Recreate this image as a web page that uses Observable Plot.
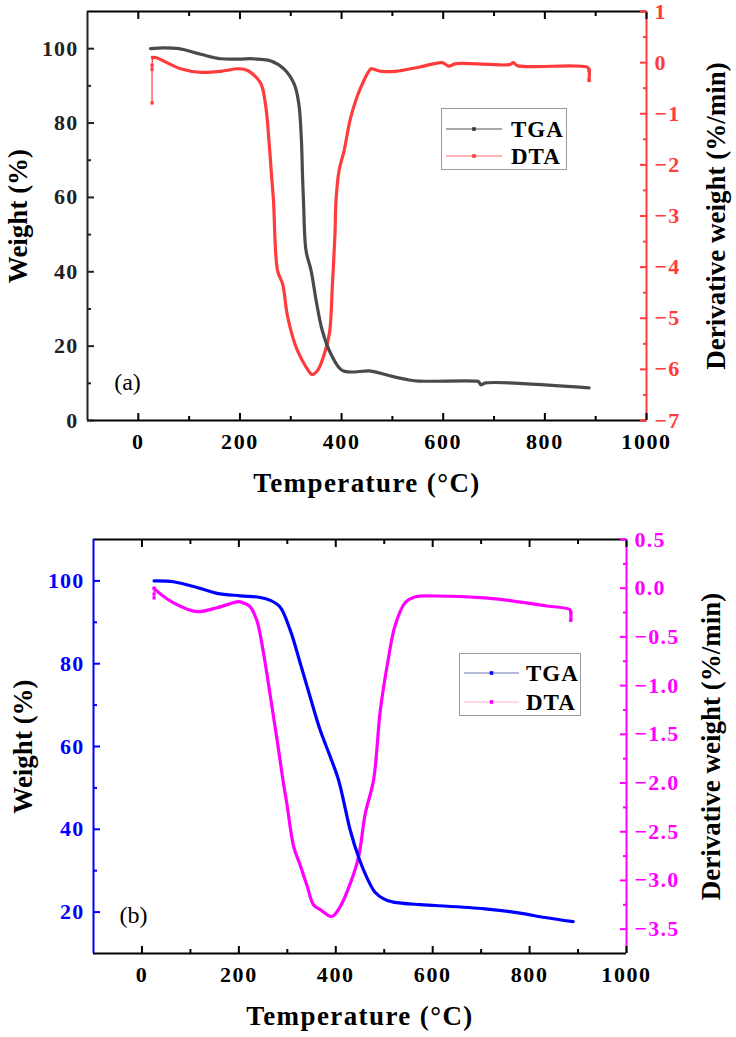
<!DOCTYPE html>
<html><head><meta charset="utf-8">
<script src="https://cdn.jsdelivr.net/npm/d3@7"></script>
<script src="https://cdn.jsdelivr.net/npm/@observablehq/plot@0.6"></script>
<style>
body{margin:0;background:#fff;}
#wrap{position:relative;width:736px;height:1037px;overflow:hidden;font-family:"Liberation Serif","Times New Roman",serif;}
#wrap > svg{position:absolute;left:0;}
#wrap svg text{font-family:"Liberation Serif","Times New Roman",serif;}
#wrap g[aria-label="x-axis tick label"] text{letter-spacing:1.6px;}
#wrap g[aria-label="y-axis tick label"] text{letter-spacing:1.2px;}
.legend{position:absolute;border:1px solid #9a9a9a;background:#fff;box-sizing:border-box;}
.legend svg{position:absolute;left:0;top:0;overflow:visible;}
</style></head><body><div id="wrap"></div>
<script>
// ---------- Panel (a) data ----------
const tempA_TGA = [24, 50, 80, 123, 162, 200, 221, 241, 261, 287, 307, 316, 321, 323, 325, 330, 340, 350, 362, 379, 402, 458, 493, 533, 552, 664, 670, 674, 684, 887];
const weightA   = [100, 100.2, 100, 98.5, 97.3, 97.2, 97.3, 97.1, 96.7, 94.5, 90.4, 85, 75.2, 66.3, 59.1, 45.7, 40.3, 32.2, 24.2, 17.9, 13.4, 13.3, 12.1, 10.9, 10.6, 10.6, 10.4, 9.6, 10.1, 8.8];
const tempA_DTA = [27, 27, 27, 28, 34, 83, 123, 162, 195, 208, 221, 241, 251, 257, 262, 266, 274, 284, 294, 313, 340, 343, 353, 366, 376, 382, 387, 389, 395, 405, 418, 438, 458, 463, 479, 506, 552, 598, 611, 625, 730, 738, 746, 884, 887, 887];
const derivA    = [-0.79, -0.13, -0.05, 0.1, 0.1, -0.12, -0.19, -0.17, -0.12, -0.13, -0.19, -0.41, -0.87, -1.52, -2.18, -2.7, -4.07, -4.33, -4.98, -5.63, -6.09, -6.1, -6.02, -5.7, -5.3, -4.33, -3.35, -2.7, -2.11, -1.72, -1.07, -0.48, -0.12, -0.13, -0.17, -0.17, -0.09, 0.0, -0.07, -0.02, -0.04, 0.0, -0.06, -0.09, -0.15, -0.35];

// ---------- Panel (b) data ----------
const tempB_TGA = [25, 65, 120, 155, 203, 244, 265, 285, 306, 327, 347, 368, 389, 406, 430, 447, 464, 481, 499, 519, 574, 605, 708, 777, 832, 890];
const weightB   = [100, 99.8, 98.2, 97, 96.4, 96, 95.3, 93.7, 88.1, 80, 72, 63.9, 57.4, 51.8, 39.7, 33.3, 28.4, 24.8, 23.2, 22.4, 21.8, 21.6, 20.8, 19.8, 18.7, 17.7];
const tempB_DTA = [25, 25, 25, 31, 65, 114, 155, 196, 203, 223, 237, 251, 265, 279, 291, 299, 313, 327, 341, 354, 368, 392, 409, 430, 447, 461, 478, 492, 508, 522, 543, 563, 605, 708, 777, 832, 883, 885, 885];
const derivB    = [-0.1, -0.06, 0.0, -0.03, -0.15, -0.24, -0.2, -0.14, -0.14, -0.19, -0.33, -0.67, -1.11, -1.56, -1.97, -2.21, -2.65, -2.85, -3.06, -3.25, -3.30, -3.37, -3.27, -3.03, -2.76, -2.31, -1.97, -1.25, -0.74, -0.39, -0.15, -0.09, -0.08, -0.10, -0.14, -0.18, -0.22, -0.25, -0.33];

// ---------- Tick labels ----------
const xMajor = [0, 200, 400, 600, 800, 1000];
const xMinor = [100, 300, 500, 700, 900];
const yMajorA = [0, 20, 40, 60, 80, 100];
const yMinorA = [10, 30, 50, 70, 90];
const dMajorA = [1, 0, -1, -2, -3, -4, -5, -6, -7];
const dMinorA = [0.5, -0.5, -1.5, -2.5, -3.5, -4.5, -5.5, -6.5];
const yMajorB = [20, 40, 60, 80, 100];
const yMinorB = [30, 50, 70, 90];
const dMajorB = [0.5, 0, -0.5, -1, -1.5, -2, -2.5, -3, -3.5];
const dMinorB = [0.25, -0.25, -0.75, -1.25, -1.75, -2.25, -2.75, -3.25];
const seriesNames = ["TGA", "DTA"];

const FONT = "Liberation Serif";
const TICKFS = 22;

function panel(cfg) {
  const {T1, W1, T2, D2, yDomain, dDomain, c1, c2, leftColor, rightColor,
         yMaj, yMin, dMaj, dMin, dFmt, height, mt, mb, ml, mr, tag, tagDx, tagDy, yTitleDx, dTitleDx, thinStart, thinEnd} = cfg;
  const [y0, y1] = yDomain, [d0, d1] = dDomain;
  const toW = d => y0 + (d - d0) / (d1 - d0) * (y1 - y0);
  const fromW = w => d0 + (w - y0) / (y1 - y0) * (d1 - d0);
  const n2 = T2.length;
  const i1 = d3.range(T1.length);
  const iMain = d3.range(thinStart, n2 - thinEnd + 1);
  const iHead = d3.range(0, thinStart + 1);
  const iTail = d3.range(n2 - thinEnd - 1, n2);
  const common = {fontSize: TICKFS, fontWeight: "bold", fontFamily: FONT, strokeWidth: 2, label: null};
  const title = {fontSize: 27, fontWeight: "bold", fontFamily: FONT, fill: "#000", textAnchor: "middle", lineAnchor: "middle"};
  const px = i => T2[i], py = i => toW(D2[i]);
  return Plot.plot({
    width: 736, height,
    marginTop: mt, marginBottom: mb, marginLeft: ml, marginRight: mr,
    style: "font-family: 'Liberation Serif', serif; background: transparent; overflow: visible;",
    x: {domain: [-100, 1000]},
    y: {domain: yDomain},
    marks: [
      // frame
      Plot.ruleY([y0], {stroke: "#000", strokeWidth: 2}),
      Plot.ruleY([y1], {stroke: "#000", strokeWidth: 2}),
      Plot.ruleX([-100], {stroke: leftColor, strokeWidth: 2}),
      Plot.ruleX([1000], {stroke: rightColor, strokeWidth: 2}),
      // bottom axis
      Plot.axisX({...common, anchor: "bottom", ticks: xMajor, tickSize: -7, tickPadding: 20, tickFormat: d3.format("d"), color: "#000"}),
      Plot.axisX({...common, anchor: "bottom", ticks: xMinor, tickSize: -4, tickFormat: () => "", color: "#000"}),
      // top ticks
      Plot.axisX({...common, anchor: "top", ticks: xMajor, tickSize: -7, tickFormat: () => "", color: "#000"}),
      Plot.axisX({...common, anchor: "top", ticks: xMinor, tickSize: -4, tickFormat: () => "", color: "#000"}),
      // left axis
      Plot.axisY({...common, anchor: "left", ticks: yMaj, tickSize: -7, tickPadding: 16, tickFormat: d3.format("d"), color: leftColor}),
      Plot.axisY({...common, anchor: "left", ticks: yMin, tickSize: -4, tickFormat: () => "", color: leftColor}),
      // right axis (derivative)
      Plot.axisY({...common, anchor: "right", ticks: dMaj.map(toW), tickSize: -7, tickPadding: 15, tickFormat: w => dFmt(+(Math.round(fromW(w) * 100) / 100).toFixed(2)), color: rightColor}),
      Plot.axisY({...common, anchor: "right", ticks: dMin.map(toW), tickSize: -4, tickFormat: () => "", color: rightColor}),
      // curves
      Plot.line(iHead, {x: px, y: py, stroke: c2, strokeWidth: 1.2}),
      Plot.line(iTail, {x: px, y: py, stroke: c2, strokeWidth: 1.2}),
      Plot.dot([...iHead, ...iTail], {x: px, y: py, fill: c2, r: 1.8, symbol: "square"}),
      Plot.line(iMain, {x: px, y: py, stroke: c2, strokeWidth: 3.2, curve: "catmull-rom"}),
      Plot.line(i1, {x: i => T1[i], y: i => W1[i], stroke: c1, strokeWidth: 3.2, curve: "catmull-rom"}),
      // titles
      Plot.text(["Temperature (°C)"], {...title, frameAnchor: "bottom", dy: 63}),
      Plot.text(["Weight (%)"], {...title, frameAnchor: "left", dx: yTitleDx, rotate: -90}),
      Plot.text(["Derivative weight (%/min)"], {...title, frameAnchor: "right", dx: dTitleDx, rotate: -90}),
      Plot.text([tag], {frameAnchor: "bottom-left", dx: tagDx, dy: tagDy, fontSize: 24, fontWeight: "normal", fontFamily: FONT, fill: "#000", textAnchor: "middle", lineAnchor: "middle"})
    ]
  });
}

const red = "#ff3b3b", gray = "#4a4a4a", blue = "#0000ff", magenta = "#ff00ff";
const wrap = document.getElementById("wrap");

const svgA = panel({
  T1: tempA_TGA, W1: weightA, T2: tempA_DTA, D2: derivA,
  yDomain: [0, 110], dDomain: [-7, 1], c1: gray, c2: red, leftColor: "#222", rightColor: red,
  yMaj: yMajorA, yMin: yMinorA, dMaj: dMajorA, dMin: dMinorA, dFmt: d3.format("d"),
  height: 505, mt: 11, mb: 85, ml: 87, mr: 90, tag: "(a)", tagDx: 40, tagDy: -38, yTitleDx: -69, dTitleDx: 70,
  thinStart: 3, thinEnd: 1
});
svgA.style.top = "0px";
wrap.appendChild(svgA);

const svgB = panel({
  T1: tempB_TGA, W1: weightB, T2: tempB_DTA, D2: derivB,
  yDomain: [10, 110], dDomain: [-3.75, 0.5], c1: blue, c2: magenta, leftColor: blue, rightColor: magenta,
  yMaj: yMajorB, yMin: yMinorB, dMaj: dMajorB, dMin: dMinorB, dFmt: d3.format(".1f"),
  height: 532, mt: 34, mb: 84, ml: 93, mr: 110, tag: "(b)", tagDx: 40, tagDy: -38, yTitleDx: -70, dTitleDx: 85,
  thinStart: 2, thinEnd: 1
});
svgB.style.top = "505px";
wrap.appendChild(svgB);

// widen horizontal titles slightly to match the reference's proportions
wrap.querySelectorAll("svg text").forEach(t => {
  if (t.textContent === "Temperature (°C)") t.style.letterSpacing = "1.4px";
});

// ---------- legends ----------
function legend({left, top, w, h, rows, colors, dotColors, lineX1, lineX2, textX}) {
  const div = document.createElement("div");
  div.className = "legend";
  Object.assign(div.style, {left: left + "px", top: top + "px", width: w + "px", height: h + "px"});
  const ns = "http://www.w3.org/2000/svg";
  const svg = document.createElementNS(ns, "svg");
  svg.setAttribute("width", w); svg.setAttribute("height", h);
  seriesNames.forEach((name, i) => {
    const y = rows[i];
    const ln = document.createElementNS(ns, "line");
    ln.setAttribute("x1", lineX1); ln.setAttribute("x2", lineX2);
    ln.setAttribute("y1", y); ln.setAttribute("y2", y);
    ln.setAttribute("stroke", colors[i]); ln.setAttribute("stroke-width", 1.2);
    svg.appendChild(ln);
    const r = document.createElementNS(ns, "rect");
    const cx = (lineX1 + lineX2) / 2;
    r.setAttribute("x", cx - 1.8); r.setAttribute("y", y - 1.8);
    r.setAttribute("width", 3.6); r.setAttribute("height", 3.6);
    r.setAttribute("fill", dotColors[i]);
    svg.appendChild(r);
    const t = document.createElementNS(ns, "text");
    t.setAttribute("x", textX); t.setAttribute("y", y);
    t.setAttribute("dy", "0.35em");
    t.setAttribute("font-family", FONT); t.setAttribute("font-weight", "bold"); t.setAttribute("font-size", 23);
    t.setAttribute("letter-spacing", "1");
    t.textContent = name;
    svg.appendChild(t);
  });
  div.appendChild(svg);
  wrap.appendChild(div);
}
legend({left: 441, top: 108, w: 126, h: 62, rows: [20, 47], colors: ["#555", "#ff6a6a"], dotColors: ["#333", red], lineX1: 4, lineX2: 60, textX: 69});
legend({left: 459, top: 653, w: 122, h: 63, rows: [19, 48], colors: ["#6a74b8", "#ffb3cf"], dotColors: [blue, magenta], lineX1: 4, lineX2: 59, textX: 66});
</script>
</body></html>
